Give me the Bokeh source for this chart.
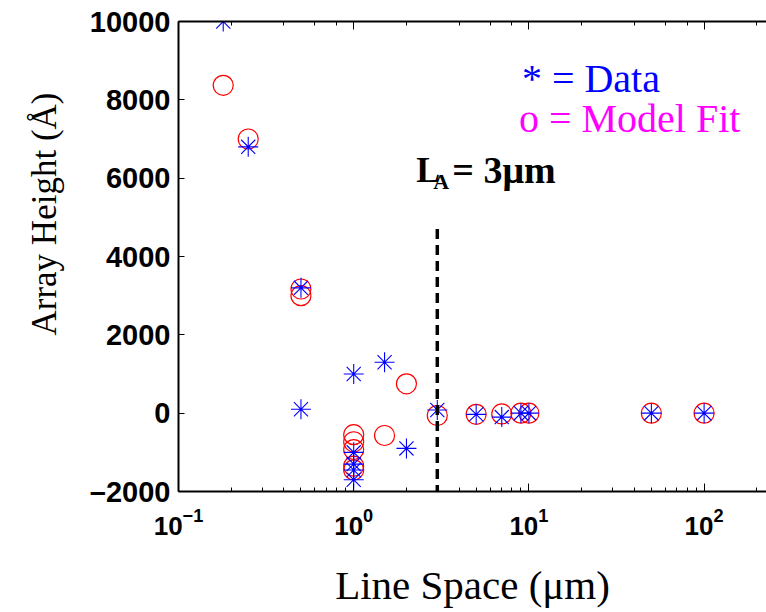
from bokeh.plotting import figure
from bokeh.models import (LogAxis, Range1d, FixedTicker, Label, Arrow, Title,
                          CustomJSTickFormatter, LogTicker)
from bokeh.embed import file_html
from bokeh.resources import INLINE

# ---- data ----
data_x = [0.18, 0.25, 0.5, 0.5, 1, 1, 1, 1, 1, 1.5, 2, 3, 5, 7, 9, 10, 50, 100]
data_y = [10000, 6800, 3200, 100, 1000, -1000, -1300, -1450, -1700, 1300, -900,
          80, -30, -100, 0, 0, 0, 0]
fit_x = [0.18, 0.25, 0.5, 0.5, 1, 1, 1, 1, 1, 1.5, 2, 3, 5, 7, 9, 10, 50, 100]
fit_y = [8370, 7000, 3170, 3000, -550, -730, -930, -1350, -1450, -570, 750,
         -60, -30, -20, 0, 0, 0, 0]
LA = 3
la_line_y = [4700, -2700]
y_ticks = [-2000, 0, 2000, 4000, 6000, 8000, 10000]
y_tick_labels = ["\u20132000", "0", "2000", "4000", "6000", "8000", "10000"]
x_limits = [0.1, 227]
y_limits = [-2000, 10000]

SERIF = "Liberation Serif"
SANS = "Liberation Sans"

p = figure(width=766, height=612, x_axis_type="log",
           x_range=Range1d(*x_limits), y_range=Range1d(*y_limits),
           output_backend="svg", toolbar_location=None,
           min_border_left=178, min_border_right=0, min_border_top=21,
           min_border_bottom=121, outline_line_color=None,
           background_fill_color="white", border_fill_color="white")
p.outline_line_alpha = 0
p.grid.visible = False

# markers
p.scatter(fit_x, fit_y, marker="circle", size=20, fill_color=None,
          line_color="red", line_width=1.2)
p.scatter(data_x, data_y, marker="asterisk", size=20, line_color="blue",
          line_width=1.1)

# dashed L_A line
p.add_layout(Arrow(end=None, x_start=LA, y_start=la_line_y[0], x_end=LA,
                   y_end=la_line_y[1], line_color="black", line_width=3.5,
                   line_dash="10 6"))

# axes styling
for ax in p.xaxis + p.yaxis:
    ax.axis_line_width = 2
    ax.axis_line_color = "black"
    ax.major_tick_out = 0
    ax.minor_tick_out = 0
    ax.major_tick_line_color = "black"
    ax.minor_tick_line_color = "black"
    ax.major_label_text_font = SANS
    ax.major_label_text_font_style = "bold"
    ax.major_label_text_color = "black"

xa = p.xaxis[0]
xa.major_tick_in = 8
xa.minor_tick_in = 4
xa.major_label_text_font_size = "26px"
xa.major_label_standoff = 16
xa.axis_label = "Line Space (\u03bcm)"
xa.axis_label_text_font = SERIF
xa.axis_label_text_font_style = "normal"
xa.axis_label_text_font_size = "41px"
xa.axis_label_text_color = "black"
xa.axis_label_standoff = 24

ya = p.yaxis[0]
ya.ticker = FixedTicker(ticks=y_ticks)
ya.major_label_overrides = {t: s for t, s in zip(y_ticks, y_tick_labels)}
ya.major_tick_in = 6
ya.minor_tick_in = 0
ya.major_label_text_font_size = "29px"
ya.major_label_standoff = 8

top = LogAxis(ticker=LogTicker(), formatter=CustomJSTickFormatter(code="return ''"),
              axis_line_width=2, major_tick_in=8, major_tick_out=0,
              minor_tick_in=4, minor_tick_out=0, major_label_standoff=0,
              major_label_text_font_size="1px")
p.add_layout(top, "above")

# y axis label
p.add_layout(Title(text="Array Height (\u00c5)", align="left", offset=156,
                   standoff=45, text_font=SERIF, text_font_style="normal",
                   text_font_size="35px", text_color="black"), "left")

# legend-like texts
p.add_layout(Label(x=10, y=8544, x_offset=-7, text="* = Data",
                   text_font=SERIF, text_font_size="40px", text_color="#0000ff",
                   text_baseline="alphabetic"))
p.add_layout(Label(x=10, y=7521, x_offset=-10, text="o = Model Fit",
                   text_font=SERIF, text_font_size="40px", text_color="#ff00ff",
                   text_baseline="alphabetic"))

# L_A = 3 um annotation
p.add_layout(Label(x=LA, y=6213, x_offset=-21, text="L", text_font=SERIF,
                   text_font_style="bold", text_font_size="36px",
                   text_color="black", text_baseline="alphabetic"))
p.add_layout(Label(x=LA, y=5919, x_offset=-4, text="A", text_font=SERIF,
                   text_font_style="bold", text_font_size="22px",
                   text_color="black", text_baseline="alphabetic"))
p.add_layout(Label(x=LA, y=6213, x_offset=15, text="= 3\u03bcm", text_font=SERIF,
                   text_font_style="bold", text_font_size="38px",
                   text_color="black", text_baseline="alphabetic"))

open("out.html", "w").write(file_html(p, INLINE))
